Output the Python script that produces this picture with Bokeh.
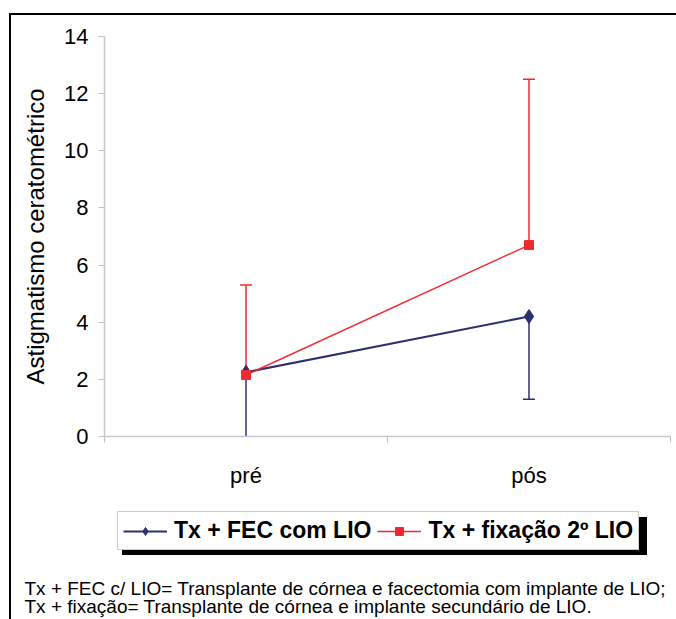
from bokeh.plotting import figure
from bokeh.layouts import column
from bokeh.models import (ColumnDataSource, FixedTicker, Legend, LegendItem,
                          Label, Range1d, Column)
from bokeh.embed import file_html
from bokeh.resources import INLINE

# ---- data ----
categories = ["pré", "pós"]
fec_mean = [2.25, 4.2]     # Tx + FEC com LIO
fec_sd = [2.35, 2.9]       # shown downward
fix_mean = [2.15, 6.7]     # Tx + fixação 2º LIO
fix_sd = [3.15, 5.8]       # shown upward
y_ticks = [0, 2, 4, 6, 8, 10, 12, 14]
legend_labels = ["Tx + FEC com LIO", "Tx + fixação 2º LIO"]
y_title = "Astigmatismo ceratométrico"
footnotes = ["Tx + FEC c/ LIO= Transplante de córnea e facectomia com implante de LIO;",
             "Tx + fixação= Transplante de córnea e implante secundário de LIO."]

BLUE = "#2E2F6F"
RED = "#EE2A30"
FONT = "Liberation Sans"

xs = [i + 0.5 for i in range(len(categories))]
fec = ColumnDataSource(dict(
    x=xs, y=fec_mean,
    lo=[m - s for m, s in zip(fec_mean, fec_sd)]))
fix = ColumnDataSource(dict(
    x=xs, y=fix_mean,
    hi=[m + s for m, s in zip(fix_mean, fix_sd)]))

W = 665
p = figure(width=W, height=485, output_backend="svg", toolbar_location=None,
           x_range=Range1d(0, len(categories)), y_range=Range1d(0, 14),
           min_border_left=93, min_border_right=6, min_border_top=21,
           min_border_bottom=64)
p.xgrid.visible = False
p.ygrid.visible = False
p.outline_line_color = None

# error bars
p.segment(x0="x", y0="y", x1="x", y1="lo", source=fec, line_color=BLUE, line_width=1.5)
p.scatter(x="x", y="lo", source=fec, marker="dash", size=12, line_color=BLUE, line_width=1.5)
p.segment(x0="x", y0="y", x1="x", y1="hi", source=fix, line_color=RED, line_width=1.5)
p.scatter(x="x", y="hi", source=fix, marker="dash", size=12, line_color=RED, line_width=1.5)

# series
p.line(x="x", y="y", source=fec, line_color=BLUE, line_width=2)
p.scatter(x="x", y="y", source=fec, marker="diamond", size=14,
          fill_color=BLUE, line_color=BLUE)
p.line(x="x", y="y", source=fix, line_color=RED, line_width=1.5)
p.scatter(x="x", y="y", source=fix, marker="square", size=9,
          fill_color=RED, line_color=RED)

# axes
ax = p.xaxis[0]
ax.ticker = FixedTicker(ticks=xs, minor_ticks=list(range(len(categories) + 1)))
ax.major_label_overrides = {x: c for x, c in zip(xs, categories)}
ax.major_tick_out = 0
ax.major_tick_in = 0
ax.minor_tick_out = 6
ax.minor_tick_in = 0
ax.minor_tick_line_color = "#c0c0c0"
ax.axis_line_color = "#c8c8c8"
ax.axis_line_width = 1.5
ax.major_label_text_font = FONT
ax.major_label_text_font_size = "22px"
ax.major_label_text_color = "black"
ax.major_label_standoff = 20

ay = p.yaxis[0]
ay.ticker = FixedTicker(ticks=y_ticks, minor_ticks=[])
ay.major_tick_out = 6
ay.major_tick_in = 0
ay.major_tick_line_color = "#c0c0c0"
ay.axis_line_color = "#c8c8c8"
ay.axis_line_width = 1.5
ay.major_label_text_font = FONT
ay.major_label_text_font_size = "22px"
ay.major_label_text_color = "black"
ay.major_label_standoff = 10
ay.axis_label = y_title
ay.axis_label_text_font = FONT
ay.axis_label_text_font_size = "24px"
ay.axis_label_text_font_style = "normal"
ay.axis_label_text_color = "black"
ay.axis_label_standoff = 12

# ---- legend + footnote panel ----
H2 = 119
q = figure(width=W, height=H2, output_backend="svg", toolbar_location=None,
           x_range=Range1d(100, 101), y_range=Range1d(100, 101),
           x_axis_type=None, y_axis_type=None,
           min_border_left=0, min_border_right=0, min_border_top=0,
           min_border_bottom=0)
q.xgrid.visible = False
q.ygrid.visible = False
q.outline_line_color = None

# legend keys: same series, outside this panel's visible range
kl1 = q.line(x="x", y="y", source=fec, line_color=BLUE, line_width=2)
km1 = q.scatter(x="x", y="y", source=fec, marker="diamond", size=14,
                fill_color=BLUE, line_color=BLUE)
kl2 = q.line(x="x", y="y", source=fix, line_color=RED, line_width=1.5)
km2 = q.scatter(x="x", y="y", source=fix, marker="square", size=9,
                fill_color=RED, line_color=RED)

# drop shadow: a black, text-free box of the same size, offset down-right
shadow = Legend(items=[LegendItem(label="", renderers=[kl1])],
                location=(111, 64), orientation="horizontal",
                glyph_width=44, glyph_height=20, label_standoff=7,
                padding=5, margin=0, label_width=462, label_height=26,
                label_text_font_size="2px",
                background_fill_color="black", background_fill_alpha=1.0,
                border_line_color="black", border_line_width=1)
q.add_layout(shadow, "center")

legend = Legend(items=[LegendItem(label=legend_labels[0], renderers=[kl1, km1]),
                       LegendItem(label=legend_labels[1], renderers=[kl2, km2])],
                location=(106, 69), orientation="horizontal",
                glyph_width=44, glyph_height=20, label_standoff=7, spacing=6,
                padding=5, margin=0,
                label_text_font=FONT, label_text_font_size="23px",
                label_text_font_style="bold", label_text_color="black",
                background_fill_color="white", background_fill_alpha=1.0,
                border_line_color="#9a9a9a", border_line_width=1)
q.add_layout(legend, "center")

for i, t in enumerate(footnotes):
    q.add_layout(Label(x=13, y=31 - 18 * i, x_units="screen", y_units="screen",
                       text=t, text_font=FONT, text_font_size="19px",
                       text_color="black", text_baseline="alphabetic"))

layout = column(p, Column(children=[q]), spacing=0,
                styles={"margin-left": "9px", "margin-top": "13px",
                        "border-left": "2px solid black",
                        "border-top": "2px solid black"})

open("out.html", "w").write(file_html(layout, INLINE))
